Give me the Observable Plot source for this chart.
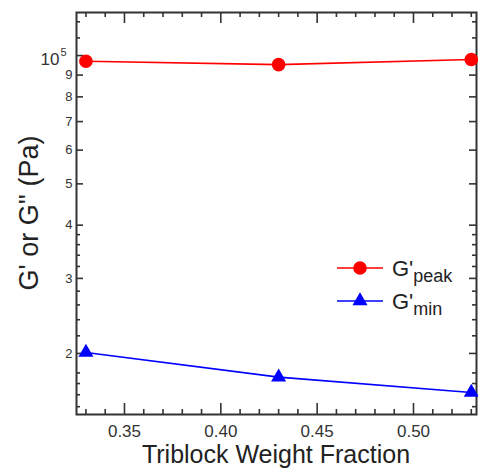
<!DOCTYPE html>
<html>
<head>
<meta charset="utf-8">
<script src="https://cdn.jsdelivr.net/npm/d3@7"></script>
<script src="https://cdn.jsdelivr.net/npm/@observablehq/plot@0.6"></script>
<style>
  body { margin: 0; background: #fff; }
  #chart svg { display: block; font-family: "Liberation Sans", Arial, sans-serif; }
</style>
</head>
<body>
<div id="chart"></div>
<script>
// Storage modulus vs. triblock weight fraction
const fractions = [0.33, 0.43, 0.53];
const gPeak = [97000, 95200, 97900];
const gMin = [20100, 17600, 16200];

// Axis ticks
const xMajorTicks = [0.35, 0.40, 0.45, 0.50];
const xMinorTicks = [0.33, 0.34, 0.36, 0.37, 0.38, 0.39, 0.41, 0.42, 0.43, 0.44,
                     0.46, 0.47, 0.48, 0.49, 0.51, 0.52, 0.53];
const yLabelTicks = [20000, 30000, 40000, 50000, 60000, 70000, 80000, 90000];
const yLabelText = ["2", "3", "4", "5", "6", "7", "8", "9"];
const yDecadeTick = [100000];
const yMinorTicks = [15000, 16000, 17000, 18000, 22000, 24000, 26000, 28000,
                     32000, 34000, 36000, 38000, 110000, 120000];

const xTitle = "Triblock Weight Fraction";
const yTitle = "G' or G'' (Pa)";

const xDomain = [0.3251, 0.5327];
const yDomain = [14380, 126200];

const W = 478, H = 469;
const mL = 76, mR = 2, mT = 12, mB = 55;
const plotW = W - mL - mR, plotH = H - mT - mB;
const axisColor = "#333";
const labelColor = "#333";

const peakRows = fractions.map((x, i) => ({x, y: gPeak[i]}));
const minRows = fractions.map((x, i) => ({x, y: gMin[i]}));

const chart = Plot.plot({
  width: W,
  height: H,
  marginLeft: mL,
  marginRight: mR,
  marginTop: mT,
  marginBottom: mB,
  x: {domain: xDomain, axis: null},
  y: {type: "log", domain: yDomain, axis: null},
  style: {fontFamily: "'Liberation Sans', Arial, sans-serif", background: "#fff"},
  marks: [
    // inward ticks, bottom and top
    Plot.ruleX(xMajorTicks, {x: d => d, insetTop: plotH - 11, stroke: axisColor, strokeWidth: 1.6}),
    Plot.ruleX(xMinorTicks, {x: d => d, insetTop: plotH - 5, stroke: axisColor, strokeWidth: 1.6}),
    Plot.ruleX(xMajorTicks, {x: d => d, insetBottom: plotH - 11, stroke: axisColor, strokeWidth: 1.6}),
    Plot.ruleX(xMinorTicks, {x: d => d, insetBottom: plotH - 5, stroke: axisColor, strokeWidth: 1.6}),
    // inward ticks, left and right
    Plot.ruleY(yLabelTicks.concat(yDecadeTick), {y: d => d, insetRight: plotW - 7, stroke: axisColor, strokeWidth: 1.6}),
    Plot.ruleY(yMinorTicks, {y: d => d, insetRight: plotW - 4, stroke: axisColor, strokeWidth: 1.6}),
    Plot.ruleY(yLabelTicks.concat(yDecadeTick), {y: d => d, insetLeft: plotW - 7, stroke: axisColor, strokeWidth: 1.6}),
    Plot.ruleY(yMinorTicks, {y: d => d, insetLeft: plotW - 4, stroke: axisColor, strokeWidth: 1.6}),
    Plot.frame({stroke: axisColor, strokeWidth: 2}),

    // tick labels
    Plot.text(xMajorTicks, {x: d => d, frameAnchor: "bottom", dy: 22, text: d => d.toFixed(2),
      fontSize: 17, fill: labelColor}),
    Plot.text(yLabelTicks, {y: d => d, frameAnchor: "left", dx: -4, textAnchor: "end",
      text: (d, i) => yLabelText[i], fontSize: 13, fill: labelColor}),
    Plot.text(yDecadeTick, {y: d => d, frameAnchor: "left", dx: -17, dy: 4, textAnchor: "end",
      text: () => "10", fontSize: 17, fill: labelColor}),
    Plot.text(yDecadeTick, {y: d => d, frameAnchor: "left", dx: -16, dy: -3, textAnchor: "start",
      text: () => "5", fontSize: 11, fill: labelColor}),

    // series
    Plot.line(peakRows, {x: "x", y: "y", stroke: "#ff0000", strokeWidth: 1.6}),
    Plot.dot(peakRows, {x: "x", y: "y", r: 6.8, fill: "#ff0000", symbol: "circle"}),
    Plot.line(minRows, {x: "x", y: "y", stroke: "#0000ff", strokeWidth: 1.6}),
    Plot.dot(minRows, {x: "x", y: "y", r: 5.6, fill: "#0000ff", symbol: "triangle"})
  ]
});

document.getElementById("chart").appendChild(chart);

const svg = d3.select(chart);

// axis titles
svg.append("text")
  .attr("x", mL + plotW / 2).attr("y", 463)
  .attr("text-anchor", "middle").attr("font-size", 25).attr("fill", "#222")
  .text(xTitle);
svg.append("text")
  .attr("transform", `translate(38,${mT + plotH / 2}) rotate(-90)`)
  .attr("text-anchor", "middle").attr("font-size", 27).attr("fill", "#222")
  .text(yTitle);

// legend inside the plot area
const legendItems = [
  {name: "peak", color: "#ff0000", symbol: d3.symbolCircle, size: Math.PI * 6.8 * 6.8},
  {name: "min", color: "#0000ff", symbol: d3.symbolTriangle, size: Math.PI * 5.6 * 5.6}
];
const legend = svg.append("g").attr("transform", "translate(337,268)");
legendItems.forEach((item, i) => {
  const g = legend.append("g").attr("transform", `translate(0,${i * 33})`);
  g.append("line").attr("x1", 0).attr("x2", 46).attr("y1", 0).attr("y2", 0)
    .attr("stroke", item.color).attr("stroke-width", 1.5);
  g.append("path").attr("transform", "translate(23,0)")
    .attr("d", d3.symbol(item.symbol, item.size)()).attr("fill", item.color);
  const t = g.append("text").attr("x", 55).attr("y", 8)
    .attr("text-anchor", "start").attr("fill", "#222").attr("font-size", 22);
  t.append("tspan").text("G'");
  t.append("tspan").attr("dy", 6).attr("font-size", 18).text(item.name);
});
</script>
</body>
</html>
